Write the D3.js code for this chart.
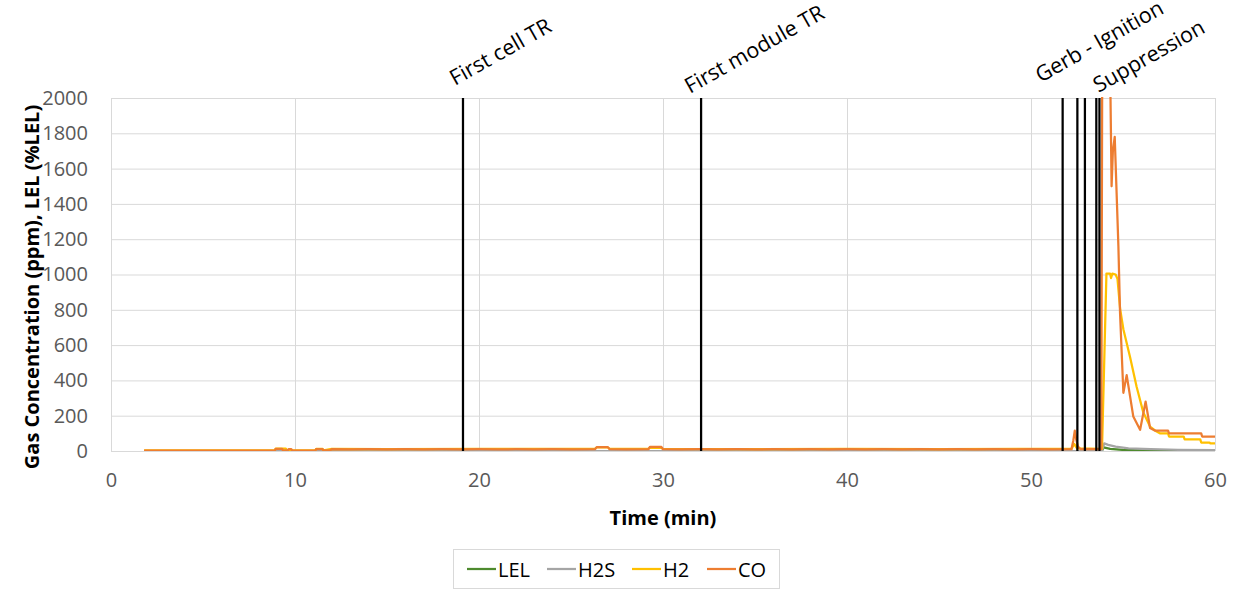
<!DOCTYPE html>
<html><head><meta charset="utf-8">
<script src="https://cdn.jsdelivr.net/npm/d3@7/dist/d3.min.js"></script>
<style>html,body{margin:0;padding:0;background:#fff;}svg{display:block;font-family:"Open Sans",sans-serif;}</style>
</head><body><svg id="c" width="1238" height="590"></svg>
<script>
// ---- data ----
const xTicks = [0, 10, 20, 30, 40, 50, 60];
const yTicks = [0, 200, 400, 600, 800, 1000, 1200, 1400, 1600, 1800, 2000];
const seriesNames = ["LEL", "H2S", "H2", "CO"];

const lelData = [[1.8,0],[53.85,0],[53.95,20],[54.3,12],[55,6],[56,3],[58,1],[60,1]];
const h2sData = [[1.8,0],[53.85,0],[53.98,43],[54.2,35],[54.6,25],[55.3,15],[56.5,10],[58,7],[60,5]];
const h2Data = [[1.8,3],[8.9,3],[8.95,14],[9.5,14],[9.55,4],[11.1,4],[11.15,12],[11.5,12],[11.55,4],[12,12],
  [15,11],[20,12],[26.3,12],[26.4,20],[27.0,20],[27.1,12],[29.2,12],[29.3,18],[29.9,18],[30,12],[35,11],[40,12],
  [45,11],[50,12],[52.2,12],[52.35,40],[52.5,15],[53.86,12],[54.1,1005],[54.3,1005],[54.35,980],[54.42,1005],
  [54.6,1000],[54.7,975],[54.85,800],[55.02,690],[55.38,534],[55.74,364],[56.1,220],[56.47,138],[56.83,110],
  [57.0,100],[57.45,100],[57.5,82],[58.3,82],[58.35,66],[59.2,66],[59.25,48],[59.7,48],[59.75,43],[60,43]];
const coData = [[1.8,2],[8.9,2],[8.95,12],[9.3,12],[9.35,3],[9.6,3],[9.65,10],[9.8,10],[9.85,2],[11.1,2],
  [11.15,10],[11.5,10],[11.55,3],[11.9,3],[12.0,10],[13,9],[14,10],[15,9],[16,10],[17,9],[18,10],[19,9],[20,10],
  [21,9],[22,10],[23,9],[24,10],[25,9],[26.3,10],[26.4,22],[27.0,22],[27.1,10],[28,9],[29.2,10],[29.3,24],
  [29.9,24],[30.0,10],[31,9],[32,10],[33,9],[34,10],[35,9],[36,10],[37,9],[38,10],[39,9],[40,10],[41,9],[42,10],
  [43,9],[44,10],[45,9],[46,10],[47,9],[48,10],[49,9],[50,10],[51,9],[52.2,10],[52.3,60],[52.38,115],[52.45,70],
  [52.55,25],[52.7,10],[53.82,10],[53.88,2600],[54.25,2600],[54.38,1500],[54.45,1700],[54.55,1780],[54.75,1160],
  [54.84,780],[55.02,330],[55.2,430],[55.56,195],[55.93,120],[56.23,280],[56.47,130],[56.75,115],[57.45,115],
  [57.5,100],[59.25,100],[59.3,82],[60,82]];
const seriesData = [lelData, h2sData, h2Data, coData];

const eventTimes = [19.13, 32.07, 51.72, 52.52, 52.93, 53.55, 53.72];
const labelTexts = ["First cell TR", "First module TR", "Gerb - Ignition", "Suppression"];
const labelTimes = [19.13, 32.07, 51.72, 53.72];

// ---- styles ----
const colors = ["#4e8a2e", "#a5a5a5", "#ffc000", "#ed7d31"];
const labelDx = [-8, -11, -22, -1];
const labelY = [86, 94, 83, 93];

const svg = d3.select("#c");
const L = 111, R = 1215, T = 98, B = 451;
const x = d3.scaleLinear().domain([0, 60]).range([L, R]);
const y = d3.scaleLinear().domain([0, 2000]).range([B, T]);

svg.append("defs").append("clipPath").attr("id", "clip")
  .append("rect").attr("x", L).attr("y", T - 1).attr("width", R - L).attr("height", B - T + 1);

// grid
svg.append("g").selectAll("line").data(yTicks).join("line")
  .attr("x1", L).attr("x2", R).attr("y1", d => y(d) + 0.5).attr("y2", d => y(d) + 0.5)
  .attr("stroke", "#d9d9d9").attr("stroke-width", 1);
svg.append("g").selectAll("line").data(xTicks).join("line")
  .attr("y1", T).attr("y2", B).attr("x1", d => Math.round(x(d)) + 0.5).attr("x2", d => Math.round(x(d)) + 0.5)
  .attr("stroke", "#d9d9d9").attr("stroke-width", 1);

// axes labels
const yAxis = d3.axisLeft(y).tickValues(yTicks).tickFormat(d3.format("d")).tickSize(0).tickPadding(23);
const gy = svg.append("g").attr("transform", `translate(${L},0)`).call(yAxis);
gy.select(".domain").remove();
gy.selectAll("text").attr("font-size", 20).attr("fill", "#595959").attr("font-family", "Open Sans");

const xAxis = d3.axisBottom(x).tickValues(xTicks).tickFormat(d3.format("d")).tickSize(0).tickPadding(22);
const gx = svg.append("g").attr("transform", `translate(0,${B})`).call(xAxis);
gx.select(".domain").remove();
gx.selectAll("text").attr("font-size", 20).attr("fill", "#595959").attr("font-family", "Open Sans");

// series
const line = d3.line().x(d => x(d[0])).y(d => y(d[1]));
const gs = svg.append("g").attr("clip-path", "url(#clip)");
seriesData.forEach((s, i) => {
  gs.append("path").datum(s).attr("d", line).attr("fill", "none")
    .attr("stroke", colors[i]).attr("stroke-width", 2.25).attr("stroke-linejoin", "round");
});

// event lines
svg.append("g").selectAll("line").data(eventTimes).join("line")
  .attr("x1", d => x(d)).attr("x2", d => x(d)).attr("y1", T).attr("y2", B)
  .attr("stroke", "#000").attr("stroke-width", 2.25);

// event labels
svg.append("g").selectAll("text").data(labelTexts).join("text")
  .attr("transform", (d, i) => `translate(${x(labelTimes[i]) + labelDx[i]},${labelY[i]}) rotate(-29.5)`)
  .attr("font-size", 21.5).attr("fill", "#000").text(d => d);

// axis titles
svg.append("text").attr("transform", "translate(31,287) rotate(-90)")
  .attr("text-anchor", "middle").attr("dominant-baseline", "central")
  .attr("font-size", 20).attr("font-weight", "bold").attr("fill", "#000")
  .text("Gas Concentration (ppm), LEL (%LEL)");
svg.append("text").attr("x", (L + R) / 2).attr("y", 517)
  .attr("text-anchor", "middle").attr("dominant-baseline", "central")
  .attr("font-size", 20).attr("font-weight", "bold").attr("fill", "#000").text("Time (min)");

// legend
const lg = svg.append("g");
lg.append("rect").attr("x", 453.5).attr("y", 549.5).attr("width", 326).attr("height", 39)
  .attr("fill", "#fff").attr("stroke", "#d9d9d9");
const legX = [467, 547, 632, 707];
seriesNames.forEach((n, i) => {
  lg.append("line").attr("x1", legX[i]).attr("x2", legX[i] + 29).attr("y1", 569).attr("y2", 569)
    .attr("stroke", colors[i]).attr("stroke-width", 2.25);
  lg.append("text").attr("x", legX[i] + 31).attr("y", 569).attr("dominant-baseline", "central")
    .attr("font-size", 20).attr("fill", "#000").text(n);
});
</script></body></html>
